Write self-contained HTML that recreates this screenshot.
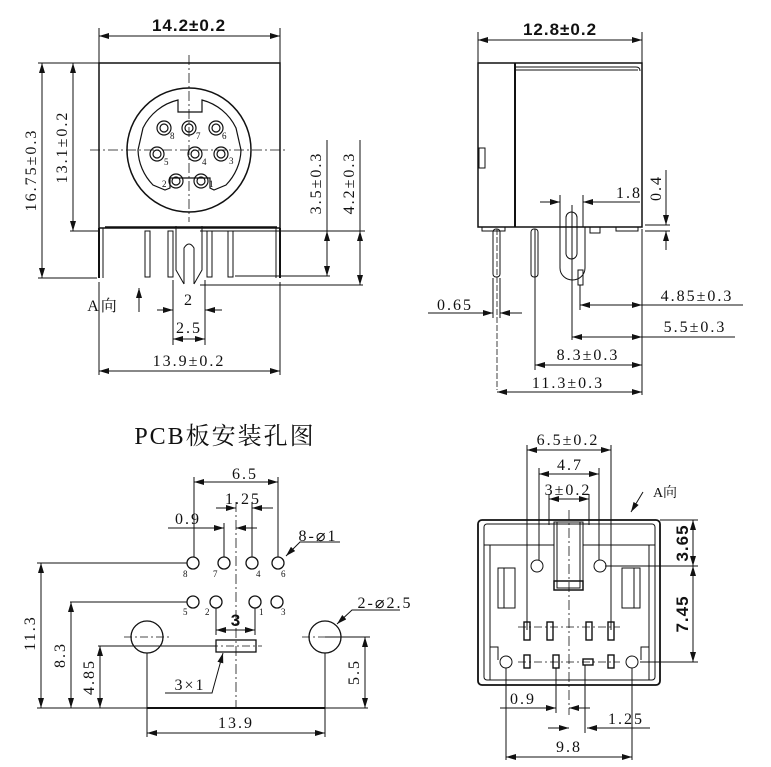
<!DOCTYPE html>
<html><head><meta charset="utf-8"><style>
html,body{margin:0;padding:0;background:#fff;}
svg{display:block;}
text{font-family:"Liberation Serif","Noto Serif CJK SC",serif;fill:#111;font-size:16px;letter-spacing:2px;}
.b{font-weight:bold;font-family:"Liberation Sans",sans-serif;font-size:17px;letter-spacing:1px;}
.s{font-size:9px;letter-spacing:0}
</style></head><body>
<svg width="771" height="767" viewBox="0 0 771 767" xmlns="http://www.w3.org/2000/svg">
<defs>
<marker id="a" viewBox="0 0 10 6" refX="10" refY="3" markerWidth="10" markerHeight="6" orient="auto-start-reverse" markerUnits="userSpaceOnUse"><path d="M0,0L10,3L0,6z" fill="#111"/></marker>
</defs>
<g stroke="#111" fill="none" stroke-width="1">
<line x1="99" y1="28" x2="99" y2="63"/><line x1="280" y1="28" x2="280" y2="63"/>
<line x1="99" y1="36" x2="280" y2="36" marker-start="url(#a)" marker-end="url(#a)"/>
<rect x="99" y="63" width="181" height="165" stroke-width="1.5"/>
<line x1="105" y1="227" x2="277" y2="227" stroke-width="1.5"/>
<line x1="99" y1="228" x2="99" y2="278" stroke-width="2"/><line x1="103" y1="228" x2="103" y2="278"/>
<line x1="280" y1="228" x2="280" y2="278" stroke-width="2"/><line x1="276" y1="228" x2="276" y2="278"/>
<rect x="145" y="231" width="5" height="46"/><rect x="168" y="231" width="5" height="46"/>
<rect x="207" y="231" width="5" height="46"/><rect x="228" y="231" width="5" height="46"/>
<path d="M176 226 V270 L184 284 M202 226 V270 L194 284"/><path d="M184 284 V248 Q189 240 194 248 V284"/>
<circle cx="189" cy="150" r="62" stroke-width="1.5"/>
<path d="M143 128 A52 52 0 0 1 178 100 V112 H202 V100 A52 52 0 0 1 236 128 L241 150 A52 52 0 0 1 226 185 L214 190 L210 188 V178 H170 V188 L165 190 L153 185 A52 52 0 0 1 138 150 Z" stroke-width="1.2"/>
<g stroke-width="1.2">
<circle cx="164" cy="128" r="7"/><circle cx="164" cy="128" r="4"/>
<circle cx="189" cy="128" r="7"/><circle cx="189" cy="128" r="4"/>
<circle cx="216" cy="128" r="7"/><circle cx="216" cy="128" r="4"/>
<circle cx="157" cy="154" r="7"/><circle cx="157" cy="154" r="4"/>
<circle cx="195" cy="154" r="7"/><circle cx="195" cy="154" r="4"/>
<circle cx="221" cy="154" r="7"/><circle cx="221" cy="154" r="4"/>
<circle cx="176" cy="181" r="7"/><circle cx="176" cy="181" r="4"/>
<circle cx="201" cy="181" r="7"/><circle cx="201" cy="181" r="4"/>
</g>
<line x1="90" y1="150" x2="288" y2="150" stroke-dasharray="10,3,2,3" stroke-width="0.8"/>
<line x1="189" y1="55" x2="189" y2="222" stroke-dasharray="10,3,2,3" stroke-width="0.8"/>
<line x1="38" y1="63" x2="99" y2="63"/><line x1="70" y1="231" x2="100" y2="231"/><line x1="38" y1="278" x2="97" y2="278"/>
<line x1="42" y1="63" x2="42" y2="278" marker-start="url(#a)" marker-end="url(#a)"/>
<line x1="73" y1="63" x2="73" y2="231" marker-start="url(#a)" marker-end="url(#a)"/>
<line x1="200" y1="231" x2="365" y2="231"/><line x1="235" y1="276" x2="330" y2="276"/><line x1="200" y1="285" x2="363" y2="285"/>
<line x1="327" y1="140" x2="327" y2="276"/><line x1="327" y1="231" x2="327" y2="276" marker-start="url(#a)" marker-end="url(#a)"/>
<line x1="360" y1="140" x2="360" y2="285"/><line x1="360" y1="231" x2="360" y2="285" marker-start="url(#a)" marker-end="url(#a)"/>
<line x1="139" y1="312" x2="139" y2="288" marker-end="url(#a)"/>
<line x1="157" y1="310" x2="173" y2="310" marker-end="url(#a)"/><line x1="222" y1="310" x2="205" y2="310" marker-end="url(#a)"/>
<line x1="173" y1="339" x2="205" y2="339" marker-start="url(#a)" marker-end="url(#a)"/>
<line x1="173" y1="280" x2="173" y2="345"/><line x1="205" y1="280" x2="205" y2="345"/>
<line x1="99" y1="282" x2="99" y2="375"/><line x1="280" y1="282" x2="280" y2="375"/>
<line x1="99" y1="371" x2="280" y2="371" marker-start="url(#a)" marker-end="url(#a)"/>

<line x1="478" y1="32" x2="478" y2="63"/><line x1="642" y1="32" x2="642" y2="63"/>
<line x1="478" y1="40" x2="642" y2="40" marker-start="url(#a)" marker-end="url(#a)"/>
<rect x="478" y="63" width="164" height="164" stroke-width="1.5"/>
<line x1="515" y1="63" x2="515" y2="227" stroke-width="2"/>
<path d="M515 67 H636 Q640 67 640 71 M515 70 H638"/>
<rect x="479" y="148" width="6" height="20"/>
<path d="M482 227 V231 H505 V227 M590 227 V233 H600 V227 M616 227 V231 H638 V227"/>
<rect x="493" y="229" width="7" height="48" rx="3"/><rect x="531" y="229" width="7" height="48" rx="3"/>
<path d="M560 227 V268 A12.5 12 0 0 0 585 268 V227"/>
<rect x="566" y="212" width="11" height="47" rx="5.5"/>
<rect x="578" y="270" width="5" height="15"/>
<line x1="497" y1="229" x2="497" y2="390" stroke-dasharray="6,2" stroke-width="0.8"/>
<line x1="535" y1="229" x2="535" y2="370"/>
<line x1="572" y1="205" x2="572" y2="340"/><line x1="580" y1="285" x2="580" y2="310"/>
<line x1="642" y1="229" x2="642" y2="395"/>
<line x1="493" y1="278" x2="493" y2="318"/><line x1="500" y1="278" x2="500" y2="318"/>
<line x1="428" y1="313" x2="493" y2="313" marker-end="url(#a)"/><line x1="522" y1="313" x2="500" y2="313" marker-end="url(#a)"/>
<line x1="540" y1="202" x2="560" y2="202" marker-end="url(#a)"/><line x1="640" y1="202" x2="583" y2="202" marker-end="url(#a)"/>
<line x1="560" y1="195" x2="560" y2="227"/><line x1="583" y1="195" x2="583" y2="227"/>
<line x1="666" y1="170" x2="666" y2="225" marker-end="url(#a)"/><line x1="666" y1="250" x2="666" y2="231" marker-end="url(#a)"/>
<line x1="645" y1="225" x2="670" y2="225"/><line x1="645" y1="231" x2="670" y2="231"/>
<line x1="580" y1="305" x2="743" y2="305" marker-start="url(#a)"/><line x1="620" y1="305" x2="642" y2="305" marker-end="url(#a)"/>
<line x1="572" y1="337" x2="735" y2="337" marker-start="url(#a)"/><line x1="620" y1="337" x2="642" y2="337" marker-end="url(#a)"/>
<line x1="535" y1="365" x2="642" y2="365" marker-start="url(#a)" marker-end="url(#a)"/>
<line x1="497" y1="392" x2="642" y2="392" marker-start="url(#a)" marker-end="url(#a)"/>

<line x1="194" y1="477" x2="194" y2="557"/><line x1="278" y1="477" x2="278" y2="557"/>
<line x1="194" y1="482" x2="278" y2="482" marker-start="url(#a)" marker-end="url(#a)"/>
<line x1="216" y1="508" x2="236" y2="508" marker-end="url(#a)"/><line x1="273" y1="508" x2="252" y2="508" marker-end="url(#a)"/>
<line x1="252" y1="502" x2="252" y2="557"/>
<line x1="168" y1="528" x2="224" y2="528" marker-end="url(#a)"/><line x1="257" y1="528" x2="236" y2="528" marker-end="url(#a)"/>
<line x1="224" y1="523" x2="224" y2="557"/>
<line x1="236" y1="502" x2="236" y2="708" stroke-dasharray="10,3,2,3" stroke-width="0.8"/>
<g stroke-width="1.3">
<circle cx="193" cy="563" r="6"/><circle cx="224" cy="563" r="6"/><circle cx="252" cy="563" r="6"/><circle cx="278" cy="563" r="6"/>
<circle cx="193" cy="602" r="6"/><circle cx="216" cy="602" r="6"/><circle cx="255" cy="602" r="6"/><circle cx="277" cy="602" r="6"/>
<circle cx="147" cy="637" r="16"/><circle cx="325" cy="637" r="16"/>
<rect x="216" y="640" width="40" height="12"/>
</g>
<line x1="124" y1="637" x2="170" y2="637" stroke-dasharray="8,3,2,3" stroke-width="0.7"/>
<line x1="302" y1="637" x2="348" y2="637" stroke-dasharray="8,3,2,3" stroke-width="0.7"/>
<line x1="210" y1="646" x2="262" y2="646" stroke-dasharray="8,3,2,3" stroke-width="0.7"/>
<line x1="37" y1="563" x2="187" y2="563"/><line x1="70" y1="602" x2="187" y2="602"/><line x1="98" y1="646" x2="216" y2="646"/>
<line x1="41" y1="563" x2="41" y2="708" marker-start="url(#a)" marker-end="url(#a)"/>
<line x1="71" y1="602" x2="71" y2="708" marker-start="url(#a)" marker-end="url(#a)"/>
<line x1="100" y1="646" x2="100" y2="708" marker-start="url(#a)" marker-end="url(#a)"/>
<line x1="37" y1="708" x2="368" y2="708"/><line x1="147" y1="708" x2="325" y2="708" stroke-width="2"/>
<line x1="365" y1="637" x2="365" y2="708" marker-start="url(#a)" marker-end="url(#a)"/><line x1="325" y1="637" x2="370" y2="637"/>
<line x1="216" y1="608" x2="216" y2="635"/><line x1="255" y1="608" x2="255" y2="635"/>
<line x1="216" y1="630" x2="255" y2="630" marker-start="url(#a)" marker-end="url(#a)"/>
<path d="M340 542 H300 L286 556" marker-end="url(#a)"/>
<path d="M400 610 H352 L337 624" marker-end="url(#a)"/>
<path d="M165 693 H212 L223 653" marker-end="url(#a)"/>
<line x1="147" y1="653" x2="147" y2="737"/><line x1="325" y1="653" x2="325" y2="737"/>
<line x1="147" y1="733" x2="325" y2="733" marker-start="url(#a)" marker-end="url(#a)"/>

<line x1="527" y1="445" x2="527" y2="630"/><line x1="611" y1="445" x2="611" y2="630"/>
<line x1="527" y1="450" x2="611" y2="450" marker-start="url(#a)" marker-end="url(#a)"/>
<line x1="539" y1="468" x2="539" y2="560"/><line x1="599" y1="468" x2="599" y2="560"/>
<line x1="539" y1="474" x2="599" y2="474" marker-start="url(#a)" marker-end="url(#a)"/>
<line x1="549" y1="494" x2="549" y2="525"/><line x1="589" y1="494" x2="589" y2="525"/>
<line x1="549" y1="499" x2="589" y2="499" marker-start="url(#a)" marker-end="url(#a)"/>
<rect x="478" y="520" width="182" height="165" rx="4" stroke-width="1.8"/>
<rect x="484" y="524" width="171" height="156" rx="3"/>
<path d="M484 545 H554 M583 545 H655 M490 545 V680 M649 545 V680"/>
<rect x="554" y="522" width="29" height="68"/><rect x="557" y="522" width="23" height="66"/>
<rect x="554" y="581" width="29" height="9" stroke-width="1.5"/>
<circle cx="537" cy="566" r="6"/><circle cx="600" cy="566" r="6"/>
<circle cx="506" cy="662" r="6"/><circle cx="632" cy="662" r="6"/>
<rect x="498" y="568" width="17" height="40"/><line x1="504" y1="568" x2="504" y2="608"/>
<rect x="622" y="568" width="18" height="40"/><line x1="634" y1="568" x2="634" y2="608"/>
<path d="M490 647 H498 V660 M649 647 H641 V660"/>
<g stroke-width="1.4">
<rect x="524" y="622" width="6" height="18"/><rect x="547" y="622" width="6" height="18"/><rect x="586" y="622" width="6" height="18"/><rect x="608" y="622" width="6" height="18"/>
<rect x="524" y="655" width="6" height="13"/><rect x="553" y="655" width="6" height="13"/><rect x="583" y="659" width="10" height="6"/><rect x="608" y="655" width="6" height="13"/>
</g>
<line x1="518" y1="627" x2="620" y2="627" stroke-dasharray="8,3,2,3" stroke-width="0.7"/>
<line x1="518" y1="662" x2="620" y2="662" stroke-dasharray="8,3,2,3" stroke-width="0.7"/>
<line x1="569" y1="510" x2="569" y2="715" stroke-dasharray="10,3,2,3" stroke-width="0.8"/>
<path d="M643 492 L631 512" marker-end="url(#a)"/>
<line x1="660" y1="520" x2="698" y2="520"/><line x1="605" y1="566" x2="698" y2="566"/><line x1="640" y1="662" x2="698" y2="662"/>
<line x1="693" y1="520" x2="693" y2="566" marker-start="url(#a)" marker-end="url(#a)"/>
<line x1="693" y1="566" x2="693" y2="662" marker-start="url(#a)" marker-end="url(#a)"/>
<line x1="556" y1="668" x2="556" y2="713"/><line x1="585" y1="665" x2="585" y2="733"/>
<line x1="500" y1="708" x2="556" y2="708" marker-end="url(#a)"/><line x1="590" y1="708" x2="569" y2="708" marker-end="url(#a)"/>
<line x1="548" y1="728" x2="569" y2="728" marker-end="url(#a)"/><line x1="650" y1="728" x2="587" y2="728" marker-end="url(#a)"/>
<line x1="506" y1="668" x2="506" y2="760"/><line x1="632" y1="668" x2="632" y2="760"/>
<line x1="506" y1="757" x2="632" y2="757" marker-start="url(#a)" marker-end="url(#a)"/>
</g>

<text class="b" x="189" y="31" text-anchor="middle">14.2±0.2</text>
<text transform="translate(36,170) rotate(-90)" text-anchor="middle">16.75±0.3</text>
<text transform="translate(67,147) rotate(-90)" text-anchor="middle">13.1±0.2</text>
<text transform="translate(321,183) rotate(-90)" text-anchor="middle">3.5±0.3</text>
<text transform="translate(354,183) rotate(-90)" text-anchor="middle">4.2±0.3</text>
<text class="s" x="170" y="139">8</text><text class="s" x="196" y="139">7</text><text class="s" x="222" y="139">6</text>
<text class="s" x="164" y="165">5</text><text class="s" x="202" y="165">4</text><text class="s" x="229" y="164">3</text>
<text class="s" x="162" y="187">2</text><text class="s" x="209" y="187">1</text>
<text x="103" y="311" text-anchor="middle">A向</text>
<text x="189" y="305" text-anchor="middle">2</text>
<text x="189" y="333" text-anchor="middle">2.5</text>
<text x="189" y="366" text-anchor="middle">13.9±0.2</text>

<text class="b" x="560" y="35" text-anchor="middle">12.8±0.2</text>
<text x="629" y="198" text-anchor="middle">1.8</text>
<text transform="translate(661,188) rotate(-90)" text-anchor="middle">0.4</text>
<text x="455" y="310" text-anchor="middle">0.65</text>
<text x="697" y="301" text-anchor="middle">4.85±0.3</text>
<text x="695" y="332" text-anchor="middle">5.5±0.3</text>
<text x="588" y="360" text-anchor="middle">8.3±0.3</text>
<text x="568" y="388" text-anchor="middle">11.3±0.3</text>

<text x="225" y="444" text-anchor="middle" style="font-size:24px;letter-spacing:2px">PCB板安装孔图</text>
<text x="245" y="479" text-anchor="middle">6.5</text>
<text x="243" y="504" text-anchor="middle">1.25</text>
<text x="188" y="524" text-anchor="middle">0.9</text>
<text x="318" y="541" text-anchor="middle">8-⌀1</text>
<text x="385" y="608" text-anchor="middle">2-⌀2.5</text>
<text class="s" x="183" y="577">8</text><text class="s" x="213" y="577">7</text><text class="s" x="256" y="577">4</text><text class="s" x="281" y="577">6</text>
<text class="s" x="183" y="615">5</text><text class="s" x="205" y="615">2</text><text class="s" x="259" y="615">1</text><text class="s" x="281" y="615">3</text>
<text class="b" x="236" y="626" text-anchor="middle">3</text>
<text x="190" y="690" text-anchor="middle">3×1</text>
<text transform="translate(35,633) rotate(-90)" text-anchor="middle">11.3</text>
<text transform="translate(65,655) rotate(-90)" text-anchor="middle">8.3</text>
<text transform="translate(94,677) rotate(-90)" text-anchor="middle">4.85</text>
<text transform="translate(359,672) rotate(-90)" text-anchor="middle">5.5</text>
<text x="236" y="728" text-anchor="middle">13.9</text>

<text x="568" y="445" text-anchor="middle">6.5±0.2</text>
<text x="570" y="470" text-anchor="middle">4.7</text>
<text x="568" y="495" text-anchor="middle">3±0.2</text>
<text x="665" y="497" text-anchor="middle" style="font-size:14px;letter-spacing:0">A向</text>
<text class="b" transform="translate(688,543) rotate(-90)" text-anchor="middle">3.65</text>
<text class="b" transform="translate(688,614) rotate(-90)" text-anchor="middle">7.45</text>
<text x="523" y="704" text-anchor="middle">0.9</text>
<text x="626" y="724" text-anchor="middle">1.25</text>
<text x="569" y="752" text-anchor="middle">9.8</text>
</svg>
</body></html>
